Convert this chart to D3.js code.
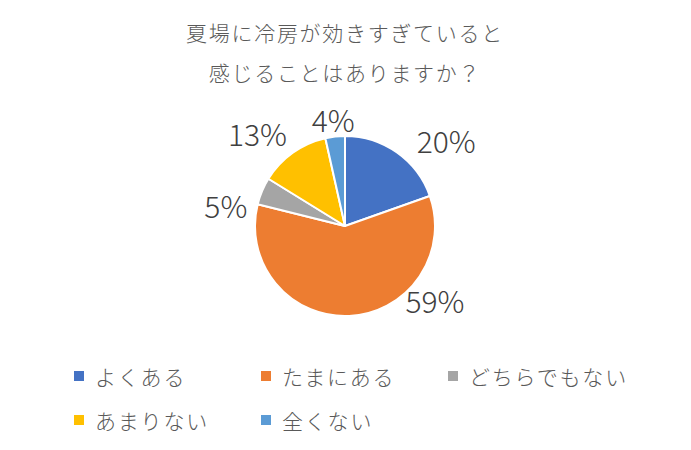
<!DOCTYPE html>
<html><head><meta charset="utf-8">
<script src="https://cdn.jsdelivr.net/npm/d3@7"></script>
<style>
html,body{margin:0;padding:0;background:#fff;}
svg{display:block;font-family:"Noto Sans CJK JP","Noto Sans",sans-serif;}
</style></head>
<body>
<svg id="chart" width="691" height="450"></svg>
<script>
const titleLines = ["夏場に冷房が効きすぎていると", "感じることはありますか？"];
const categories = ["よくある", "たまにある", "どちらでもない", "あまりない", "全くない"];
const values = [19.6, 59.3, 4.9, 12.7, 3.5];
const colors = ["#4472C4", "#ED7D31", "#A5A5A5", "#FFC000", "#5B9BD5"];

const svg = d3.select("#chart");
const W = 691, H = 450;
svg.append("rect").attr("width", W).attr("height", H).attr("fill", "#fff");

// title
svg.append("g").selectAll("text").data(titleLines).join("text")
  .attr("x", 345).attr("y", (d, i) => 32 + i * 40)
  .attr("text-anchor", "middle").attr("dominant-baseline", "central")
  .attr("font-size", 21).attr("font-weight", 300).attr("fill", "#595959")
  .attr("letter-spacing", 1.7)
  .text(d => d);

// pie
const cx = 345, cy = 226, R = 90;
const pie = d3.pie().sort(null).value(d => d);
const arcs = pie(values);
const arc = d3.arc().innerRadius(0).outerRadius(R);
const g = svg.append("g").attr("transform", `translate(${cx},${cy})`);
g.selectAll("path").data(arcs).join("path")
  .attr("d", arc)
  .attr("fill", (d, i) => colors[i])
  .attr("stroke", "#fff").attr("stroke-width", 2).attr("stroke-linejoin", "round");

// labels (outside, best-fit nudges)
const labelArc = d3.arc().innerRadius(125).outerRadius(125);
const nudge = [[29, 16], [84, -51], [-4, 28], [-15, 9], [2, 17]];
g.selectAll("text.lbl").data(arcs).join("text").attr("class", "lbl")
  .attr("x", (d, i) => labelArc.centroid(d)[0] + nudge[i][0])
  .attr("y", (d, i) => labelArc.centroid(d)[1] + nudge[i][1])
  .attr("text-anchor", "middle").attr("dominant-baseline", "central")
  .attr("font-size", 30).attr("font-weight", 300).attr("fill", "#404040")
  .text(d => Math.round(d.data) + "%");

// legend
const legX = d3.scalePoint().domain([0, 1, 2]).range([74, 448]);
const leg = svg.append("g").selectAll("g").data(categories).join("g")
  .attr("transform", (d, i) => `translate(${legX(i % 3)},${376 + Math.floor(i / 3) * 44})`);
leg.append("rect").attr("x", 0).attr("y", -5).attr("width", 10).attr("height", 10)
  .attr("fill", (d, i) => colors[i]);
leg.append("text").attr("x", 21).attr("y", 0)
  .attr("dominant-baseline", "central")
  .attr("font-size", 21).attr("font-weight", 300).attr("fill", "#595959")
  .attr("letter-spacing", 1.8)
  .text(d => d);
</script>
</body></html>
